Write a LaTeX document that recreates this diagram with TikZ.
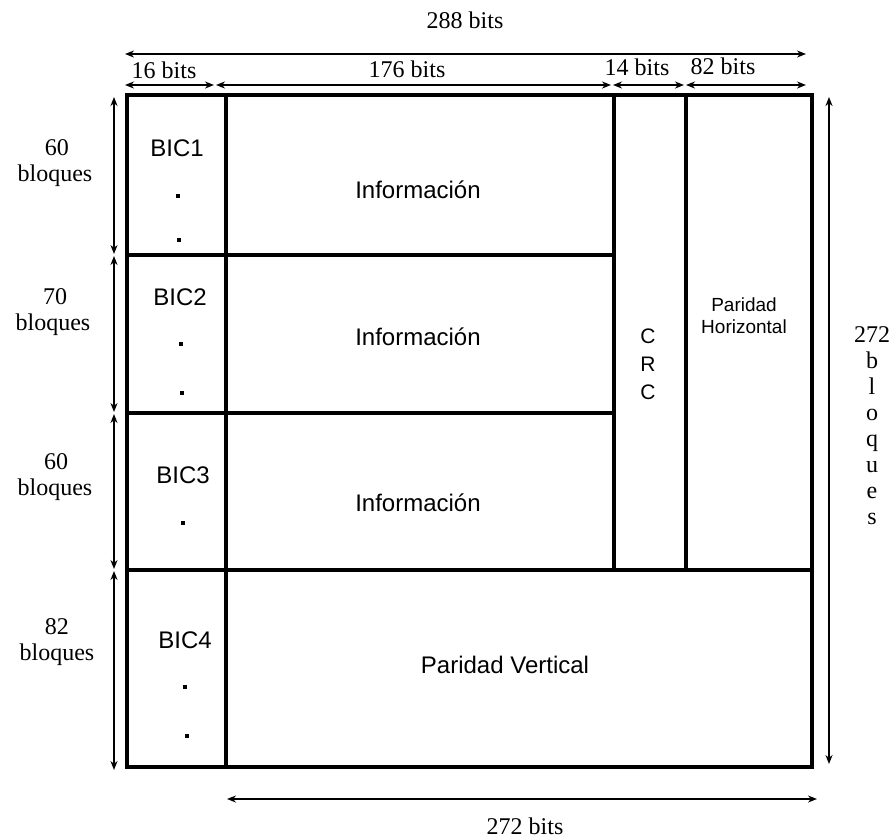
\documentclass[tikz,border=0pt]{standalone}
\usepackage{fontspec}
\setmainfont{Liberation Serif}
\newfontfamily\arialf{Liberation Sans}
\usetikzlibrary{arrows.meta}
\begin{document}
\begin{tikzpicture}[x=1pt,y=-1pt,
  frame/.style={line width=3.2pt, line cap=rect},
  dim/.style={line width=2pt, {Stealth[length=9pt,width=7pt]}-{Stealth[length=9pt,width=7pt]}},
  tlabel/.style={font=\fontsize{24}{26}\selectfont, inner sep=0pt},
  slabel/.style={font=\arialf\fontsize{24}{26}\selectfont, inner sep=0pt},
  sslabel/.style={font=\arialf\fontsize{19}{22}\selectfont, inner sep=0pt, align=center},
  crcl/.style={font=\arialf\fontsize{21}{28}\selectfont, inner sep=0pt, align=center},
  dotm/.style={fill=black, rectangle, inner sep=0pt, minimum size=4.5pt}]
\useasboundingbox (0,0) rectangle (892,839);
% frame corners and dividers
\coordinate (TL) at (127,95);
\coordinate (BR) at (812,767);
\draw[frame] (TL) rectangle (BR);
\coordinate (c1t) at (226,95);  \coordinate (c1b) at (226,767);
\coordinate (c2t) at (614,95);  \coordinate (c2b) at (614,570);
\coordinate (c3t) at (686,95);  \coordinate (c3b) at (686,570);
\coordinate (r1l) at (127,255); \coordinate (r1r) at (614,255);
\coordinate (r2l) at (127,413); \coordinate (r2r) at (614,413);
\coordinate (r3l) at (127,570); \coordinate (r3r) at (812,570);
\draw[frame] (c1t) -- (c1b);
\draw[frame] (c2t) -- (c2b);
\draw[frame] (c3t) -- (c3b);
\draw[frame] (r1l) -- (r1r);
\draw[frame] (r2l) -- (r2r);
\draw[frame] (r3l) -- (r3r);
% top dimension arrows
\coordinate (a0) at (125,54); \coordinate (a1) at (806,54);
\draw[dim] (a0) -- (a1);
\node[tlabel] (l288) at (465,20) {288 bits};
\coordinate (s0) at (125,85);
\coordinate (s1a) at (214,85); \coordinate (s1b) at (216,85);
\coordinate (s2a) at (611,85); \coordinate (s2b) at (613,85);
\coordinate (s3a) at (684,85); \coordinate (s3b) at (686,85);
\coordinate (s4) at (806,85);
\draw[dim] (s0) -- (s1a);
\draw[dim] (s1b) -- (s2a);
\draw[dim] (s2b) -- (s3a);
\draw[dim] (s3b) -- (s4);
\node[tlabel] (l16) at (164,70) {16 bits};
\node[tlabel] (l176) at (407,69) {176 bits};
\node[tlabel] (l14) at (637,67) {14 bits};
\node[tlabel] (l82) at (723,66) {82 bits};
% left dimension arrows
\coordinate (v0) at (114,97);
\coordinate (v1a) at (114,254); \coordinate (v1b) at (114,256);
\coordinate (v2a) at (114,412); \coordinate (v2b) at (114,414);
\coordinate (v3a) at (114,569); \coordinate (v3b) at (114,571);
\coordinate (v4) at (114,770);
\draw[dim] (v0) -- (v1a);
\draw[dim] (v1b) -- (v2a);
\draw[dim] (v2b) -- (v3a);
\draw[dim] (v3b) -- (v4);
\node[tlabel] (n60a) at (57,148) {60};
\node[tlabel] (b60a) at (55,176) {bloques};
\node[tlabel] (n70) at (55,297) {70};
\node[tlabel] (b70) at (53,325) {bloques};
\node[tlabel] (n60b) at (56,462) {60};
\node[tlabel] (b60b) at (55,490) {bloques};
\node[tlabel] (n82) at (57,627) {82};
\node[tlabel] (b82) at (57,655) {bloques};
% right dimension arrow
\coordinate (w0) at (829,97); \coordinate (w1) at (829,764);
\draw[dim] (w0) -- (w1);
\node[tlabel, anchor=base] (n272) at (872,342) {272};
\foreach \ch [count=\i] in {b,l,o,q,u,e,s}{
  \node[tlabel, anchor=base] (v\i) at (872,342+26*\i) {\ch};
}
% bottom dimension arrow
\coordinate (h0) at (227,799); \coordinate (h1) at (817,799);
\draw[dim] (h0) -- (h1);
\node[tlabel] (l272) at (525,826) {272 bits};
% BIC labels and dots
\node[slabel] (bic1) at (177,148) {BIC1};
\node[dotm] (d11) at (178,196) {};
\node[dotm] (d12) at (179,240) {};
\node[slabel] (bic2) at (180,297) {BIC2};
\node[dotm] (d21) at (181,344) {};
\node[dotm] (d22) at (182,393) {};
\node[slabel] (bic3) at (183,475) {BIC3};
\node[dotm] (d31) at (183,523) {};
\node[slabel] (bic4) at (185,640) {BIC4};
\node[dotm] (d41) at (185,687) {};
\node[dotm] (d42) at (187,736) {};
% contents
\node[slabel] (inf1) at (418,190) {Información};
\node[slabel] (inf2) at (418,337) {Información};
\node[slabel] (inf3) at (418,503) {Información};
\node[slabel] (pv) at (505,665) {Paridad Vertical};
\node[crcl] (crc) at (648,364) {C\\R\\C};
\node[sslabel] (ph) at (744,316) {Paridad\\Horizontal};
\end{tikzpicture}
\end{document}
